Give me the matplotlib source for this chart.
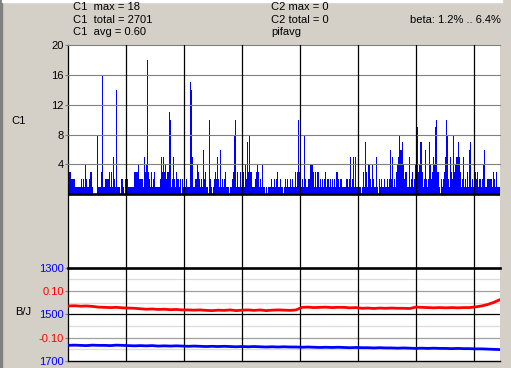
import numpy as np
import matplotlib
matplotlib.use("Agg")
import matplotlib.pyplot as plt
from matplotlib.patches import Rectangle

plt.rcParams['font.family'] = ['Liberation Sans', 'DejaVu Sans']

# C1 counts, one value per screen column
c1 = [
    # segment 1
    3, 3, 3, 2, 2, 2, 2, 1, 1, 1, 1, 1, 1, 2, 1, 2, 1, 4, 2, 1,
    1, 2, 3, 3, 1, 0, 0, 0, 0, 8, 1, 1, 1, 3, 16, 1, 1, 2, 2, 2,
    2, 3, 1, 3, 1, 5, 2, 1, 14, 1, 1, 1, 0, 2, 2, 1, 0, 2, 2, 2,
    # segment 2
    1, 1, 1, 1, 1, 1, 3, 3, 3, 3, 4, 2, 2, 2, 2, 1, 5, 3, 4, 18,
    3, 2, 1, 3, 1, 2, 3, 1, 1, 1, 1, 1, 2, 5, 3, 5, 3, 4, 2, 3,
    3, 11, 10, 1, 2, 5, 2, 1, 3, 2, 2, 1, 2, 0, 2, 1, 1, 1, 2, 1,
    1, 1,
    # segment 3
    15, 14, 5, 1, 1, 2, 2, 4, 3, 2, 1, 2, 1, 6, 2, 3, 1, 1, 0, 10,
    2, 1, 0, 1, 2, 3, 2, 5, 2, 1, 6, 1, 2, 1, 2, 3, 1, 1, 1, 0,
    1, 1, 2, 3, 8, 10, 1, 3, 1, 1, 3, 1, 7, 3, 1, 4, 2, 7, 3, 8,
    3, 3,
    # segment 4
    1, 1, 1, 2, 3, 4, 3, 1, 2, 1, 4, 1, 1, 0, 1, 0, 1, 1, 1, 2,
    1, 1, 2, 1, 2, 3, 1, 1, 2, 1, 1, 0, 1, 2, 1, 2, 1, 1, 2, 1,
    2, 1, 1, 3, 1, 3, 10, 3, 1, 1, 2, 1, 8, 2, 1, 1, 2, 2, 4, 4,
    4, 3,
    # segment 5
    1, 3, 1, 3, 3, 1, 2, 1, 2, 1, 2, 3, 1, 2, 2, 1, 2, 1, 2, 1,
    2, 1, 3, 3, 2, 1, 2, 2, 1, 1, 1, 1, 2, 2, 1, 2, 5, 1, 2, 5,
    1, 5, 1, 1, 1, 1, 1, 0, 1, 3, 1, 7, 3, 1, 4, 4, 2, 1, 4, 2,
    1, 1,
    # segment 6
    5, 1, 0, 2, 1, 2, 1, 1, 2, 1, 1, 2, 1, 2, 6, 2, 5, 1, 2, 1,
    3, 4, 5, 8, 6, 6, 7, 4, 2, 3, 3, 1, 1, 5, 1, 2, 3, 1, 2, 4,
    5, 9, 3, 4, 7, 7, 3, 1, 2, 6, 2, 1, 2, 7, 4, 2, 3, 5, 4, 9,
    10, 3,
    # segment 7
    3, 1, 0, 2, 1, 2, 3, 5, 10, 8, 2, 1, 5, 3, 2, 8, 3, 4, 5, 5,
    7, 5, 3, 1, 2, 5, 1, 2, 1, 3, 1, 6, 7, 1, 2, 1, 2, 3, 2, 3,
    1, 2, 2, 1, 2, 4, 6, 1, 1, 2, 2, 2, 2, 2, 1, 3, 2, 1, 3, 1,
    1, 1,
]

# B/J traces (red on the +-0.2 scale, blue on the 1300..1700 scale)
red = [
    0.036, 0.037, 0.035, 0.036, 0.034, 0.031, 0.030, 0.029, 0.030, 0.028,
    0.027, 0.026, 0.024, 0.022, 0.023, 0.021, 0.022, 0.020, 0.021, 0.019,
    0.019, 0.018, 0.019, 0.017, 0.016, 0.018, 0.017, 0.019, 0.016, 0.018,
    0.019, 0.017, 0.019, 0.016, 0.018, 0.019, 0.018, 0.017, 0.019, 0.030,
    0.031, 0.029, 0.030, 0.031, 0.029, 0.030, 0.030, 0.028, 0.029, 0.026,
    0.027, 0.025, 0.027, 0.026, 0.027, 0.026, 0.026, 0.025, 0.031, 0.030,
    0.029, 0.028, 0.029, 0.028, 0.029, 0.028, 0.029, 0.029, 0.032, 0.036,
    0.042, 0.051, 0.062,
]
blue = [
    1633, 1632, 1633, 1634, 1632, 1633, 1633, 1634, 1632, 1633,
    1634, 1635, 1634, 1635, 1634, 1636, 1635, 1636, 1635, 1636,
    1637, 1636, 1637, 1638, 1637, 1638, 1637, 1638, 1639, 1638,
    1639, 1638, 1639, 1640, 1639, 1640, 1639, 1640, 1640, 1641,
    1640, 1641, 1642, 1641, 1642, 1641, 1642, 1643, 1642, 1643,
    1643, 1644, 1643, 1644, 1644, 1645, 1644, 1645, 1646, 1645,
    1646, 1645, 1646, 1646, 1647, 1646, 1647, 1647, 1648, 1648,
    1649, 1650, 1651,
]

c1_ticks = [4, 8, 12, 16, 20]
bj_ticks = [1300, 1400, 1500, 1600, 1700]
bj_labels = ['1300', '0.10', '1500', '-0.10', '1700']
bj_colors = ['#0000ff', '#ff0000', '#0000ff', '#ff0000', '#0000ff']

W, H = 511, 368
bg = '#d4d0c8'
fig = plt.figure(figsize=(W / 100, H / 100), dpi=100, facecolor=bg)

def frac(x0, y0, x1, y1):
    return [x0 / W, 1 - y1 / H, (x1 - x0) / W, (y1 - y0) / H]

n = len(c1)
vgrid = 57.3 + 58.1 * np.arange(7)

# top panel: C1
ax1 = fig.add_axes(frac(68, 45, 500, 268))
ax1.stairs(c1, np.arange(n + 1) - 0.5, fill=True, color='#0000ff',
           linewidth=0, zorder=2)
ax1.set_xlim(-0.5, n - 0.5)
ax1.set_ylim(-9.87, 20)
for v in c1_ticks:
    ax1.axhline(v, color='#808080', lw=0.8, zorder=3, clip_on=False)
ax1.axhline(0, color='black', lw=1.9, zorder=4)
for v in vgrid:
    ax1.axvline(v, color='black', lw=0.9, zorder=3)
ax1.set_xticks([])
ax1.set_yticks(c1_ticks)
ax1.set_yticklabels([str(t) for t in c1_ticks])
ax1.tick_params(axis='y', length=2.5, width=0.8, color='#808080', pad=0.5, labelsize=8)
for s in ['top', 'right', 'bottom']:
    ax1.spines[s].set_visible(False)
ax1.spines['left'].set_color('black')
ax1.spines['left'].set_linewidth(0.9)

# bottom panel: B/J
ax2 = fig.add_axes(frac(68, 267.7, 500, 361))
ax2.set_xlim(-0.5, n - 0.5)
ax2.set_ylim(1700, 1300)
for v in [1350, 1450, 1550, 1650]:
    ax2.axhline(v, color='#dcdcdc', lw=0.9, zorder=1)
for v in [1400, 1600]:
    ax2.axhline(v, color='#a0a0a0', lw=0.9, zorder=1)
ax2.axhline(1500, color='black', lw=0.9, zorder=1)
ax2.axhline(1700, color='black', lw=1.0, zorder=1, clip_on=False)
ax2.axhline(1300, color='black', lw=1.9, zorder=5, clip_on=False)
for v in vgrid:
    ax2.axvline(v, color='black', lw=0.9, zorder=1)
tx = np.linspace(0, n - 1, len(blue))
ax2.plot(tx, blue, color='#0000ff', lw=2.0, zorder=3)
ax2.set_xticks([])
ax2.set_yticks(bj_ticks)
ax2.set_yticklabels(bj_labels)
ax2.tick_params(axis='y', length=2.5, width=0.8, color='#808080', pad=0.5, labelsize=8)
for lab, col in zip(ax2.get_yticklabels(), bj_colors):
    lab.set_color(col)
for s in ['top', 'right', 'bottom']:
    ax2.spines[s].set_visible(False)
ax2.spines['left'].set_color('black')
ax2.spines['left'].set_linewidth(0.9)

ax3 = ax2.twinx()
ax3.set_ylim(-0.2, 0.2)
ax3.plot(np.linspace(0, n - 1, len(red)), red, color='#ff0000', lw=2.0, zorder=3)
ax3.set_yticks([])
for s in ax3.spines.values():
    s.set_visible(False)

# labels and header text
fig.text(19 / W, 1 - 121 / H, 'C1', ha='center', va='center', fontsize=8)
fig.text(23 / W, 1 - 312 / H, 'B/J', ha='center', va='center', fontsize=8)
fig.text(73 / W, 1 - 7 / H, 'C1  max = 18', va='center', fontsize=8)
fig.text(73 / W, 1 - 20 / H, 'C1  total = 2701', va='center', fontsize=8)
fig.text(73 / W, 1 - 32 / H, 'C1  avg = 0.60', va='center', fontsize=8)
fig.text(271 / W, 1 - 7 / H, 'C2 max = 0', va='center', fontsize=8)
fig.text(271 / W, 1 - 20 / H, 'C2 total = 0', va='center', fontsize=8)
fig.text(271 / W, 1 - 32 / H, 'pifavg', va='center', fontsize=8)
fig.text(501 / W, 1 - 20 / H, 'beta: 1.2% .. 6.4%', ha='right', va='center', fontsize=8)

# window edges
fig.patches.append(Rectangle((0, 0), 2 / W, 1, transform=fig.transFigure,
                             color='#808080', zorder=0))
fig.patches.append(Rectangle((2 / W, 1 - 2 / H), 500 / W, 2 / H, transform=fig.transFigure,
                             color='white', zorder=0))

fig.savefig('out.png', dpi=100, facecolor=bg)
